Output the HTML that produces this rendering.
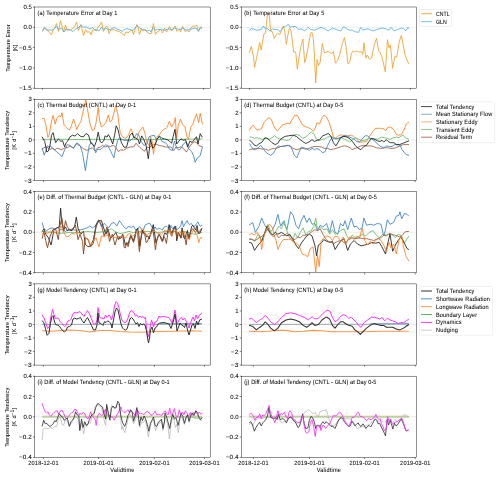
<!DOCTYPE html><html><head><meta charset="utf-8"><style>html,body{margin:0;padding:0;background:#fff;width:500px;height:477px;overflow:hidden}svg{display:block;will-change:transform}</style></head><body><svg width="500" height="477" viewBox="0 0 500 477" font-family="Liberation Sans, sans-serif"><style>text{fill:#000;stroke:#000;stroke-width:0.40px;text-rendering:geometricPrecision} text.r{text-rendering:auto;stroke-width:0.2px}</style>
<rect width="500" height="477" fill="#fff"/>
<line x1="34.5" y1="27.30" x2="210.2" y2="27.30" stroke="#d9d9d9" stroke-width="0.5"/>
<g clip-path="url(#cpa)">
<polyline points="42.5,30.5 44.5,27.0 46.0,29.5 49.0,31.5 51.5,35.0 53.0,30.0 54.5,29.0 56.5,23.5 58.5,31.5 60.5,20.5 62.0,26.0 63.5,32.0 65.5,25.0 67.0,30.5 68.5,30.0 70.0,29.5 72.0,29.0 74.5,27.0 76.5,22.0 78.5,30.5 81.0,24.5 83.5,35.5 85.5,29.5 87.0,32.0 90.0,32.0 91.0,35.0 92.5,30.0 94.5,30.0 96.5,31.0 98.0,27.0 100.0,25.0 101.5,22.0 103.5,31.5 105.0,28.0 106.5,26.0 108.0,28.0 109.0,33.5 110.5,30.0 113.5,29.5 115.5,30.5 118.0,31.0 120.0,32.0 122.0,33.5 124.5,35.5 126.0,32.0 128.0,33.0 130.0,31.0 132.0,30.0 133.5,34.5 135.5,28.0 137.0,24.5 138.5,29.0 139.5,34.5 141.5,28.5 143.0,31.0 145.0,30.0 147.0,32.0 149.0,33.5 151.5,33.5 153.5,23.5 155.5,34.5 157.0,32.0 159.5,30.5 161.0,29.5 162.5,33.0 164.5,28.0 166.5,32.0 169.5,26.5 171.5,31.0 175.0,26.0 177.0,31.5 179.5,29.0 180.5,32.0 182.5,26.5 185.0,31.5 187.0,30.5 189.0,32.0 191.5,27.0 193.5,26.0 195.0,26.5 196.5,25.0 198.5,31.0 200.5,27.0 202.0,27.5" fill="none" stroke="#eea02a" stroke-width="0.85" stroke-linejoin="round" opacity="1"/>
<polyline points="42.5,31.5 44.5,28.0 48.0,30.0 52.0,30.0 54.0,29.0 56.5,26.5 58.5,29.0 62.0,28.5 64.0,32.0 66.0,29.0 69.0,29.5 73.0,31.5 75.5,29.0 78.0,28.0 81.0,25.0 83.0,27.0 86.0,27.0 90.0,29.0 92.5,27.5 94.5,29.5 97.0,30.0 99.0,31.0 101.5,27.0 103.5,29.5 106.0,28.0 108.0,30.0 110.0,29.5 114.0,27.5 117.0,29.0 120.0,30.0 122.0,31.5 124.5,29.5 127.0,28.5 130.0,29.5 133.0,30.5 135.0,28.0 137.0,25.5 139.0,27.5 142.0,29.5 144.5,29.5 147.0,31.0 149.5,30.0 151.0,32.0 153.0,27.5 155.0,30.0 157.5,29.5 160.0,29.5 161.5,29.0 164.0,30.5 166.0,29.5 170.0,29.0 172.0,30.0 174.5,28.0 177.5,29.0 180.0,29.5 183.0,28.0 186.0,30.0 190.0,29.5 193.0,28.5 196.0,28.0 198.5,31.5 200.0,27.5 202.0,29.0" fill="none" stroke="#56b0e8" stroke-width="0.85" stroke-linejoin="round" opacity="1"/>
</g>
<clipPath id="cpa"><rect x="34.5" y="7.0" width="175.70" height="81.2"/></clipPath>
<rect x="34.5" y="7.0" width="175.70" height="81.2" fill="none" stroke="#000" stroke-width="0.44"/>
<line x1="32.9" y1="7.00" x2="34.5" y2="7.00" stroke="#000" stroke-width="0.5"/>
<g transform="translate(31.70,9.00) scale(0.1,0.1100)"><text font-size="56.0" text-anchor="end" textLength="82.7" lengthAdjust="spacingAndGlyphs">0.5</text></g>
<line x1="32.9" y1="27.30" x2="34.5" y2="27.30" stroke="#000" stroke-width="0.5"/>
<g transform="translate(31.70,29.30) scale(0.1,0.1100)"><text font-size="56.0" text-anchor="end" textLength="82.7" lengthAdjust="spacingAndGlyphs">0.0</text></g>
<line x1="32.9" y1="47.60" x2="34.5" y2="47.60" stroke="#000" stroke-width="0.5"/>
<g transform="translate(31.70,49.60) scale(0.1,0.1100)"><text font-size="56.0" text-anchor="end" textLength="126.3" lengthAdjust="spacingAndGlyphs">−0.5</text></g>
<line x1="32.9" y1="67.90" x2="34.5" y2="67.90" stroke="#000" stroke-width="0.5"/>
<g transform="translate(31.70,69.90) scale(0.1,0.1100)"><text font-size="56.0" text-anchor="end" textLength="126.3" lengthAdjust="spacingAndGlyphs">−1.0</text></g>
<line x1="32.9" y1="88.20" x2="34.5" y2="88.20" stroke="#000" stroke-width="0.5"/>
<g transform="translate(31.70,90.20) scale(0.1,0.1100)"><text font-size="56.0" text-anchor="end" textLength="126.3" lengthAdjust="spacingAndGlyphs">−1.5</text></g>
<line x1="42.40" y1="88.2" x2="42.40" y2="89.8" stroke="#000" stroke-width="0.5"/>
<line x1="98.00" y1="88.2" x2="98.00" y2="89.8" stroke="#000" stroke-width="0.5"/>
<line x1="153.40" y1="88.2" x2="153.40" y2="89.8" stroke="#000" stroke-width="0.5"/>
<line x1="203.40" y1="88.2" x2="203.40" y2="89.8" stroke="#000" stroke-width="0.5"/>
<g transform="translate(37.50,14.60) scale(0.1,0.1100)"><text font-size="56.0" textLength="799.3" lengthAdjust="spacing">(a) Temperature Error at Day 1</text></g>
<line x1="241.3" y1="27.30" x2="416.4" y2="27.30" stroke="#d9d9d9" stroke-width="0.5"/>
<g clip-path="url(#cpb)">
<polyline points="249.2,52.6 251.3,46.3 253.4,56.3 254.6,67.4 256.7,57.3 259.7,42.6 261.2,50.0 263.9,33.7 265.4,33.2 266.5,24.3 267.5,13.8 269.1,13.8 270.7,31.1 272.3,31.6 274.3,38.4 276.4,34.8 278.0,33.2 279.6,34.8 281.2,31.1 283.3,25.9 284.8,31.1 286.4,44.2 288.0,34.3 289.5,28.0 291.1,31.0 293.7,52.2 295.1,51.5 295.9,53.7 297.3,69.1 298.8,59.5 300.3,49.3 302.9,39.0 304.7,62.5 306.1,58.1 308.3,46.3 310.5,33.1 312.0,32.4 313.2,37.5 314.2,50.7 315.7,83.0 317.1,59.5 318.6,65.4 320.1,62.5 322.3,43.4 324.5,52.9 328.1,51.5 331.8,53.7 333.3,51.5 335.5,63.2 337.7,60.3 339.9,53.7 342.3,43.4 344.5,37.5 346.0,46.3 347.9,63.9 349.7,62.5 351.4,53.7 353.3,50.7 354.8,52.2 357.0,50.7 359.2,52.2 361.4,51.5 362.9,54.4 364.0,42.7 365.8,58.1 367.3,55.1 369.5,59.5 371.7,58.1 373.9,46.3 376.5,38.3 378.7,50.7 380.1,52.2 382.3,58.1 385.3,72.0 387.5,39.7 388.9,47.8 390.4,44.9 392.6,68.3 394.8,56.6 396.7,57.3 399.2,41.9 401.4,35.3 405.1,55.1 408.7,63.9" fill="none" stroke="#eea02a" stroke-width="0.85" stroke-linejoin="round" opacity="1"/>
<polyline points="249.2,31.1 251.3,28.5 253.4,29.0 256.0,30.0 258.6,30.0 261.2,29.5 263.3,25.9 265.4,29.0 267.5,28.5 270.2,31.1 272.3,29.0 275.4,29.5 277.5,29.5 280.1,31.6 282.7,28.0 285.4,26.4 288.5,24.3 290.1,27.4 292.2,26.5 295.9,26.5 298.1,29.5 301.0,28.7 304.7,30.9 308.3,27.3 310.5,29.5 314.9,30.2 320.8,27.3 324.5,28.7 328.1,30.9 332.5,28.0 336.2,29.5 340.9,30.9 343.8,26.5 346.7,28.7 349.7,30.2 352.6,30.2 354.8,31.7 358.5,32.4 360.7,27.3 362.9,30.2 365.1,29.5 368.0,28.7 370.9,30.2 373.1,30.9 376.8,29.5 381.9,28.0 385.3,28.7 388.9,30.2 391.1,27.3 394.1,30.9 397.7,29.5 401.4,28.0 403.6,28.7 405.8,30.9 408.0,27.3 408.7,28.7" fill="none" stroke="#56b0e8" stroke-width="0.85" stroke-linejoin="round" opacity="1"/>
</g>
<clipPath id="cpb"><rect x="241.3" y="7.0" width="175.10" height="81.2"/></clipPath>
<rect x="241.3" y="7.0" width="175.10" height="81.2" fill="none" stroke="#000" stroke-width="0.44"/>
<line x1="239.70000000000002" y1="7.00" x2="241.3" y2="7.00" stroke="#000" stroke-width="0.5"/>
<g transform="translate(238.50,9.00) scale(0.1,0.1100)"><text font-size="56.0" text-anchor="end" textLength="82.7" lengthAdjust="spacingAndGlyphs">0.5</text></g>
<line x1="239.70000000000002" y1="27.30" x2="241.3" y2="27.30" stroke="#000" stroke-width="0.5"/>
<g transform="translate(238.50,29.30) scale(0.1,0.1100)"><text font-size="56.0" text-anchor="end" textLength="82.7" lengthAdjust="spacingAndGlyphs">0.0</text></g>
<line x1="239.70000000000002" y1="47.60" x2="241.3" y2="47.60" stroke="#000" stroke-width="0.5"/>
<g transform="translate(238.50,49.60) scale(0.1,0.1100)"><text font-size="56.0" text-anchor="end" textLength="126.3" lengthAdjust="spacingAndGlyphs">−0.5</text></g>
<line x1="239.70000000000002" y1="67.90" x2="241.3" y2="67.90" stroke="#000" stroke-width="0.5"/>
<g transform="translate(238.50,69.90) scale(0.1,0.1100)"><text font-size="56.0" text-anchor="end" textLength="126.3" lengthAdjust="spacingAndGlyphs">−1.0</text></g>
<line x1="239.70000000000002" y1="88.20" x2="241.3" y2="88.20" stroke="#000" stroke-width="0.5"/>
<g transform="translate(238.50,90.20) scale(0.1,0.1100)"><text font-size="56.0" text-anchor="end" textLength="126.3" lengthAdjust="spacingAndGlyphs">−1.5</text></g>
<line x1="249.50" y1="88.2" x2="249.50" y2="89.8" stroke="#000" stroke-width="0.5"/>
<line x1="304.60" y1="88.2" x2="304.60" y2="89.8" stroke="#000" stroke-width="0.5"/>
<line x1="360.40" y1="88.2" x2="360.40" y2="89.8" stroke="#000" stroke-width="0.5"/>
<line x1="410.40" y1="88.2" x2="410.40" y2="89.8" stroke="#000" stroke-width="0.5"/>
<g transform="translate(244.30,14.60) scale(0.1,0.1100)"><text font-size="56.0" textLength="800.4" lengthAdjust="spacing">(b) Temperature Error at Day 5</text></g>
<g transform="translate(10.40,48.10) rotate(-90) scale(0.1,0.1100)"><text class="r" font-size="56.0" text-anchor="middle" textLength="472.7" lengthAdjust="spacing">Temperature Error</text></g>
<g transform="translate(16.60,48.10) rotate(-90) scale(0.1,0.1100)"><text class="r" font-size="56.0" text-anchor="middle">[K]</text></g>
<line x1="34.5" y1="139.90" x2="210.2" y2="139.90" stroke="#d9d9d9" stroke-width="0.5"/>
<g clip-path="url(#cpc)">
<polyline points="42.1,118.5 44.2,118.5 45.8,124.8 47.9,137.4 49.4,134.2 51.0,123.7 53.1,115.3 55.2,124.2 56.8,118.5 58.9,115.9 61.0,116.4 62.0,112.7 64.1,125.3 66.2,127.4 69.4,130.0 71.4,125.8 73.5,119.0 75.1,123.7 76.7,129.5 78.8,124.8 80.9,121.6 83.4,110.1 85.9,100.0 87.6,110.0 90.0,123.9 92.5,130.8 94.4,129.6 96.3,121.4 98.2,107.5 99.5,120.1 101.4,127.0 103.9,125.2 105.8,122.6 108.3,115.1 110.2,122.0 112.0,120.1 114.6,110.1 115.8,105.0 117.7,113.8 120.2,132.7 122.7,137.1 125.9,138.4 128.4,135.2 130.9,128.9 132.2,131.5 134.4,138.1 136.6,139.6 138.8,132.3 141.0,129.3 142.9,127.1 144.7,132.3 146.9,142.5 149.1,145.5 150.5,136.7 152.0,141.1 153.5,154.3 154.9,144.0 157.1,136.7 159.3,135.2 161.5,131.5 163.7,129.3 165.9,128.6 167.2,127.1 169.4,121.3 171.6,127.1 173.8,123.5 175.3,117.6 176.7,138.1 178.2,125.7 180.4,119.1 182.6,124.9 184.8,126.4 187.0,136.7 188.5,139.6 190.7,127.1 192.9,124.2 194.3,119.8 196.5,113.9 198.7,122.7 200.2,113.2 202.4,124.2" fill="none" stroke="#ff8020" stroke-width="0.85" stroke-linejoin="round" opacity="1"/>
<polyline points="42.1,139.4 60.0,139.2 80.0,139.6 95.0,139.3 110.0,139.6 130.0,139.5 150.0,139.6 170.0,139.4 185.0,139.2 202.4,139.0" fill="none" stroke="#66bb66" stroke-width="0.85" stroke-linejoin="round" opacity="1"/>
<polyline points="42.1,149.9 43.7,147.8 45.8,146.8 47.9,147.8 50.0,149.4 52.1,148.4 54.7,149.9 56.8,148.4 58.9,148.4 61.0,149.9 63.1,148.9 65.7,147.3 67.8,147.8 70.0,146.1 73.4,147.8 76.7,143.6 80.1,146.1 83.4,148.7 86.8,150.3 90.1,148.7 92.5,147.8 95.1,150.9 97.6,147.8 100.1,147.2 102.6,145.3 105.1,147.2 107.6,145.9 110.2,146.5 113.3,145.3 115.8,147.2 118.3,151.6 120.8,149.7 123.4,150.3 126.5,148.4 130.0,146.9 133.7,146.9 135.9,143.3 138.8,146.2 141.7,149.1 144.7,151.3 146.9,146.9 149.1,147.7 152.0,145.5 155.7,144.0 159.3,145.5 163.0,146.2 165.9,147.2 170.9,146.9 173.8,150.6 176.0,146.9 178.2,147.7 181.1,146.9 184.1,149.1 186.3,152.1 188.5,148.4 191.4,144.0 194.3,141.8 196.5,142.5 198.7,145.5 202.4,146.9" fill="none" stroke="#a05c3c" stroke-width="0.85" stroke-linejoin="round" opacity="1"/>
<polyline points="42.1,147.8 44.2,155.2 45.8,151.0 47.3,145.7 48.9,146.8 50.5,146.3 52.6,147.8 54.7,149.9 56.8,152.0 59.4,154.1 62.0,156.7 64.6,149.9 67.3,144.7 70.0,145.3 73.4,148.7 76.7,142.8 80.1,145.3 82.6,153.7 85.4,170.5 87.6,155.4 89.3,145.3 91.3,142.1 93.2,144.7 95.7,152.8 97.6,149.1 100.1,149.7 102.6,147.8 105.8,144.7 108.3,146.5 110.8,151.6 113.9,157.9 115.8,147.8 117.7,140.3 119.6,137.7 121.5,139.0 124.0,140.3 126.5,140.3 130.0,141.1 132.9,138.1 135.1,136.7 136.6,133.7 138.8,135.2 141.0,141.1 143.9,145.5 146.9,144.0 149.1,136.7 151.3,135.9 154.2,135.2 156.4,139.6 159.3,136.7 162.3,141.8 165.2,142.5 167.2,144.7 169.4,149.1 172.3,150.6 174.5,141.1 176.7,148.4 178.9,149.9 181.1,148.4 183.3,144.0 186.3,141.8 188.5,148.4 191.4,151.3 193.6,155.7 195.1,162.3 197.3,157.9 200.2,155.7 202.4,146.9" fill="none" stroke="#3a80c0" stroke-width="0.85" stroke-linejoin="round" opacity="1"/>
<polyline points="42.1,136.8 44.7,141.5 46.8,152.0 48.4,151.0 50.0,145.7 51.5,135.3 53.1,132.6 54.2,137.4 55.7,142.6 58.3,138.9 61.0,141.5 62.5,140.5 64.6,146.8 66.2,142.6 67.8,141.0 70.0,136.9 72.5,135.2 75.0,136.1 77.6,133.6 80.1,136.1 83.4,136.9 85.9,133.6 88.5,135.0 90.7,142.8 92.5,144.7 94.4,146.5 96.3,141.5 98.2,132.1 100.1,141.5 102.0,142.8 103.9,140.3 105.1,135.8 107.0,137.1 108.3,134.6 110.2,137.7 112.7,144.0 114.6,135.2 116.2,125.8 118.0,129.6 119.6,136.5 121.5,142.8 124.0,147.2 126.5,147.2 128.4,140.3 130.0,135.2 132.2,133.0 133.7,137.4 135.9,138.1 138.1,139.6 139.5,144.0 141.7,135.9 143.9,139.6 146.1,145.5 148.3,158.7 150.5,139.6 152.7,148.4 154.9,145.5 157.1,139.6 159.3,135.9 161.5,138.1 164.5,138.9 167.2,139.6 169.4,141.1 171.6,143.3 173.1,136.7 175.0,129.3 176.7,144.0 178.9,141.1 181.1,138.9 183.3,140.3 185.5,139.6 187.7,146.9 189.9,141.1 192.1,142.5 194.3,139.6 196.5,136.7 198.0,144.0 200.2,133.7 202.4,137.4" fill="none" stroke="#1a1a1a" stroke-width="0.85" stroke-linejoin="round" opacity="1"/>
</g>
<clipPath id="cpc"><rect x="34.5" y="99.3" width="175.70" height="81.2"/></clipPath>
<rect x="34.5" y="99.3" width="175.70" height="81.2" fill="none" stroke="#000" stroke-width="0.44"/>
<line x1="32.9" y1="99.30" x2="34.5" y2="99.30" stroke="#000" stroke-width="0.5"/>
<g transform="translate(31.70,101.30) scale(0.1,0.1100)"><text font-size="56.0" text-anchor="end" textLength="33.1" lengthAdjust="spacingAndGlyphs">3</text></g>
<line x1="32.9" y1="112.83" x2="34.5" y2="112.83" stroke="#000" stroke-width="0.5"/>
<g transform="translate(31.70,114.83) scale(0.1,0.1100)"><text font-size="56.0" text-anchor="end" textLength="33.1" lengthAdjust="spacingAndGlyphs">2</text></g>
<line x1="32.9" y1="126.37" x2="34.5" y2="126.37" stroke="#000" stroke-width="0.5"/>
<g transform="translate(31.70,128.37) scale(0.1,0.1100)"><text font-size="56.0" text-anchor="end" textLength="33.1" lengthAdjust="spacingAndGlyphs">1</text></g>
<line x1="32.9" y1="139.90" x2="34.5" y2="139.90" stroke="#000" stroke-width="0.5"/>
<g transform="translate(31.70,141.90) scale(0.1,0.1100)"><text font-size="56.0" text-anchor="end" textLength="33.1" lengthAdjust="spacingAndGlyphs">0</text></g>
<line x1="32.9" y1="153.43" x2="34.5" y2="153.43" stroke="#000" stroke-width="0.5"/>
<g transform="translate(31.70,155.43) scale(0.1,0.1100)"><text font-size="56.0" text-anchor="end" textLength="76.7" lengthAdjust="spacingAndGlyphs">−1</text></g>
<line x1="32.9" y1="166.97" x2="34.5" y2="166.97" stroke="#000" stroke-width="0.5"/>
<g transform="translate(31.70,168.97) scale(0.1,0.1100)"><text font-size="56.0" text-anchor="end" textLength="76.7" lengthAdjust="spacingAndGlyphs">−2</text></g>
<line x1="32.9" y1="180.50" x2="34.5" y2="180.50" stroke="#000" stroke-width="0.5"/>
<g transform="translate(31.70,182.50) scale(0.1,0.1100)"><text font-size="56.0" text-anchor="end" textLength="76.7" lengthAdjust="spacingAndGlyphs">−3</text></g>
<line x1="43.40" y1="180.5" x2="43.40" y2="182.1" stroke="#000" stroke-width="0.5"/>
<line x1="98.60" y1="180.5" x2="98.60" y2="182.1" stroke="#000" stroke-width="0.5"/>
<line x1="154.40" y1="180.5" x2="154.40" y2="182.1" stroke="#000" stroke-width="0.5"/>
<line x1="204.40" y1="180.5" x2="204.40" y2="182.1" stroke="#000" stroke-width="0.5"/>
<g transform="translate(37.50,106.90) scale(0.1,0.1100)"><text font-size="56.0" textLength="985.9" lengthAdjust="spacing">(c) Thermal Budget (CNTL) at Day 0-1</text></g>
<line x1="241.3" y1="139.90" x2="416.4" y2="139.90" stroke="#d9d9d9" stroke-width="0.5"/>
<g clip-path="url(#cpd)">
<polyline points="249.4,130.2 251.3,127.0 253.2,125.1 255.1,127.6 257.0,130.2 258.8,129.5 261.4,128.9 263.9,122.6 266.4,119.5 268.9,117.6 271.4,119.5 273.3,125.1 275.8,129.5 277.7,130.8 279.6,128.3 282.1,125.1 285.3,123.9 287.8,123.2 289.7,123.9 292.5,118.8 295.0,115.1 297.5,115.7 300.1,120.7 302.6,125.1 305.1,126.4 308.2,127.6 310.8,128.9 313.3,131.4 315.2,128.3 317.0,122.6 319.6,123.9 322.1,117.6 324.0,115.1 326.5,117.0 329.0,122.0 331.5,130.2 333.4,137.1 335.3,138.3 337.5,136.4 341.3,134.6 344.4,136.4 347.6,135.8 351.4,135.2 353.9,136.4 356.4,139.0 359.5,142.1 362.7,142.1 366.4,141.5 369.6,136.4 372.7,131.4 375.9,128.3 380.7,128.3 383.8,128.9 385.7,130.8 387.6,127.6 390.1,127.0 392.6,128.3 394.5,130.8 396.4,134.6 398.3,135.2 401.4,134.6 403.9,130.2 406.4,123.9 409.0,122.0" fill="none" stroke="#ff8020" stroke-width="0.85" stroke-linejoin="round" opacity="1"/>
<polyline points="249.4,137.1 251.9,137.1 254.4,138.3 257.0,137.7 259.5,138.3 262.0,139.6 264.5,138.3 267.0,138.3 269.5,139.0 272.0,137.7 274.6,135.8 277.1,137.7 279.6,139.0 282.7,139.6 285.3,140.2 288.4,140.2 290.5,139.0 292.5,135.8 295.0,134.6 297.5,134.6 300.1,135.8 302.6,138.3 305.7,137.1 308.9,133.9 311.4,132.0 313.9,133.9 316.4,139.0 318.9,140.8 321.4,139.6 324.6,139.0 327.7,137.1 330.9,136.4 333.4,137.7 338.1,139.0 341.3,137.7 344.4,139.0 347.6,140.8 349.5,142.1 352.0,140.2 355.1,137.7 358.3,139.0 361.4,140.8 364.6,140.2 367.7,139.0 370.8,138.3 374.0,139.0 378.1,139.0 381.3,137.1 384.4,137.7 387.6,138.3 390.1,139.6 393.2,137.7 396.4,137.1 398.9,137.7 400.8,136.4 403.3,135.2 405.8,138.3 409.0,139.0" fill="none" stroke="#66bb66" stroke-width="0.85" stroke-linejoin="round" opacity="1"/>
<polyline points="249.4,149.7 252.5,149.0 255.7,148.4 258.8,148.4 262.0,149.0 265.1,149.0 268.3,150.3 271.4,149.0 274.6,148.4 277.7,147.8 280.8,146.5 284.0,145.9 287.8,145.3 290.3,146.5 293.1,148.4 296.3,149.7 299.4,149.0 302.6,148.4 305.7,149.0 308.9,148.4 312.0,147.1 315.2,146.5 318.3,146.5 321.4,147.1 324.6,148.4 327.7,148.4 330.9,149.7 333.4,149.0 335.9,148.4 338.1,147.8 341.3,146.5 344.4,145.9 347.6,146.5 350.1,147.8 352.0,149.7 355.1,148.4 358.3,147.1 360.8,145.9 363.9,145.3 367.1,145.9 370.2,145.9 373.4,146.5 376.5,147.8 381.3,148.4 384.4,147.8 387.6,147.8 390.7,148.4 393.9,148.4 397.0,147.1 400.2,145.9 403.3,144.6 409.0,144.6" fill="none" stroke="#a05c3c" stroke-width="0.85" stroke-linejoin="round" opacity="1"/>
<polyline points="249.4,143.4 251.3,146.5 253.8,149.7 255.7,149.7 258.2,147.8 260.7,145.3 263.2,148.4 265.8,152.2 268.3,154.1 270.8,155.3 273.3,153.4 275.8,149.0 278.3,145.9 280.8,146.5 283.4,146.5 285.9,145.9 288.5,145.3 290.5,146.0 291.9,149.0 294.4,155.3 296.9,157.8 298.8,152.8 301.3,147.1 303.8,147.8 306.4,149.0 309.5,150.3 312.0,148.4 314.5,149.7 317.0,148.4 320.2,150.3 322.7,152.8 325.2,151.5 327.7,145.3 330.3,140.2 332.1,137.7 335.0,139.0 338.1,138.3 341.3,137.1 345.1,135.2 347.6,136.4 351.4,137.7 353.9,139.0 356.4,141.5 359.5,142.1 362.0,139.0 365.2,135.8 367.7,135.8 370.2,138.3 372.7,139.6 375.9,142.1 377.5,144.0 380.7,146.5 383.8,147.8 386.9,145.9 389.5,146.5 392.0,146.5 394.5,144.6 397.6,144.6 400.2,145.3 402.0,149.7 404.6,152.8 406.4,154.7 409.0,155.3" fill="none" stroke="#3a80c0" stroke-width="0.85" stroke-linejoin="round" opacity="1"/>
<polyline points="249.4,140.2 251.3,141.5 253.8,144.6 256.3,145.9 258.8,144.0 262.0,142.1 265.1,137.7 267.0,138.3 269.5,140.2 272.0,142.7 275.2,144.6 277.7,143.4 280.2,139.6 282.7,137.7 285.3,136.4 288.4,135.8 293.1,135.2 296.3,136.4 299.4,139.0 302.6,141.5 305.7,143.4 308.9,142.1 312.0,139.6 314.5,141.5 317.0,140.2 319.6,139.6 322.7,135.8 325.8,134.6 328.4,133.3 330.9,136.4 333.4,142.7 335.9,145.9 337.8,142.7 340.7,137.7 343.8,136.4 347.0,137.1 350.1,139.0 352.6,141.5 355.1,145.3 357.6,147.8 360.8,149.7 363.3,147.1 366.4,145.3 369.0,141.5 371.5,138.3 374.0,139.0 377.5,140.8 380.0,141.5 381.9,140.2 383.8,142.1 386.3,139.6 388.2,141.5 390.7,142.7 393.9,142.7 396.4,144.6 399.5,144.6 402.7,143.4 405.8,142.1 409.0,140.8" fill="none" stroke="#1a1a1a" stroke-width="0.85" stroke-linejoin="round" opacity="1"/>
</g>
<clipPath id="cpd"><rect x="241.3" y="99.3" width="175.10" height="81.2"/></clipPath>
<rect x="241.3" y="99.3" width="175.10" height="81.2" fill="none" stroke="#000" stroke-width="0.44"/>
<line x1="239.70000000000002" y1="99.30" x2="241.3" y2="99.30" stroke="#000" stroke-width="0.5"/>
<g transform="translate(238.50,101.30) scale(0.1,0.1100)"><text font-size="56.0" text-anchor="end" textLength="33.1" lengthAdjust="spacingAndGlyphs">3</text></g>
<line x1="239.70000000000002" y1="112.83" x2="241.3" y2="112.83" stroke="#000" stroke-width="0.5"/>
<g transform="translate(238.50,114.83) scale(0.1,0.1100)"><text font-size="56.0" text-anchor="end" textLength="33.1" lengthAdjust="spacingAndGlyphs">2</text></g>
<line x1="239.70000000000002" y1="126.37" x2="241.3" y2="126.37" stroke="#000" stroke-width="0.5"/>
<g transform="translate(238.50,128.37) scale(0.1,0.1100)"><text font-size="56.0" text-anchor="end" textLength="33.1" lengthAdjust="spacingAndGlyphs">1</text></g>
<line x1="239.70000000000002" y1="139.90" x2="241.3" y2="139.90" stroke="#000" stroke-width="0.5"/>
<g transform="translate(238.50,141.90) scale(0.1,0.1100)"><text font-size="56.0" text-anchor="end" textLength="33.1" lengthAdjust="spacingAndGlyphs">0</text></g>
<line x1="239.70000000000002" y1="153.43" x2="241.3" y2="153.43" stroke="#000" stroke-width="0.5"/>
<g transform="translate(238.50,155.43) scale(0.1,0.1100)"><text font-size="56.0" text-anchor="end" textLength="76.7" lengthAdjust="spacingAndGlyphs">−1</text></g>
<line x1="239.70000000000002" y1="166.97" x2="241.3" y2="166.97" stroke="#000" stroke-width="0.5"/>
<g transform="translate(238.50,168.97) scale(0.1,0.1100)"><text font-size="56.0" text-anchor="end" textLength="76.7" lengthAdjust="spacingAndGlyphs">−2</text></g>
<line x1="239.70000000000002" y1="180.50" x2="241.3" y2="180.50" stroke="#000" stroke-width="0.5"/>
<g transform="translate(238.50,182.50) scale(0.1,0.1100)"><text font-size="56.0" text-anchor="end" textLength="76.7" lengthAdjust="spacingAndGlyphs">−3</text></g>
<line x1="253.40" y1="180.5" x2="253.40" y2="182.1" stroke="#000" stroke-width="0.5"/>
<line x1="309.40" y1="180.5" x2="309.40" y2="182.1" stroke="#000" stroke-width="0.5"/>
<line x1="364.60" y1="180.5" x2="364.60" y2="182.1" stroke="#000" stroke-width="0.5"/>
<line x1="415.20" y1="180.5" x2="415.20" y2="182.1" stroke="#000" stroke-width="0.5"/>
<g transform="translate(244.30,106.90) scale(0.1,0.1100)"><text font-size="56.0" textLength="990.3" lengthAdjust="spacing">(d) Thermal Budget (CNTL) at Day 0-5</text></g>
<g transform="translate(9.40,140.40) rotate(-90) scale(0.1,0.1100)"><text class="r" font-size="56.0" text-anchor="middle" textLength="591.1" lengthAdjust="spacing">Temperature Tendency</text></g>
<g transform="translate(15.80,140.40) rotate(-90) scale(0.1,0.1100)"><text class="r" font-size="56.0" text-anchor="middle" textLength="186.0" lengthAdjust="spacing">[K d<tspan font-size="42" dy="-20">−1</tspan><tspan dy="20">]</tspan></text></g>
<line x1="34.5" y1="232.20" x2="210.2" y2="232.20" stroke="#d9d9d9" stroke-width="0.5"/>
<g clip-path="url(#cpe)">
<polyline points="42.1,231.5 52.0,232.4 61.0,233.3 70.0,232.4 79.0,232.4 88.0,231.5 97.0,232.4 106.0,231.5 111.4,228.8 115.0,231.5 120.0,233.6 124.5,232.7 129.0,231.4 133.5,232.7 138.0,231.8 142.5,231.8 147.0,231.4 151.5,231.8 156.0,232.3 160.5,232.3 165.0,231.4 169.5,231.8 174.0,231.4 178.5,232.3 183.0,231.4 187.5,232.3 192.0,233.6 195.6,234.5 199.2,233.2 201.9,232.3" fill="none" stroke="#66bb66" stroke-width="0.85" stroke-linejoin="round" opacity="1"/>
<polyline points="42.1,222.5 43.9,228.8 46.6,230.6 49.3,228.8 52.0,227.9 54.7,228.8 57.4,227.9 60.1,229.7 62.8,229.7 65.5,231.5 68.2,229.7 70.9,230.6 73.6,229.7 76.3,230.6 79.0,229.7 81.7,229.7 84.4,228.8 87.1,227.9 89.8,226.1 92.5,227.9 95.2,226.1 97.9,220.7 99.7,222.5 101.5,227.0 104.2,223.4 106.0,225.2 108.7,227.9 111.4,223.4 114.1,222.5 116.8,226.1 119.5,220.7 120.0,221.5 121.4,223.3 122.7,225.5 124.5,227.3 126.3,229.1 128.1,226.4 129.9,226.9 131.7,227.3 133.5,226.0 134.9,228.7 136.2,230.5 137.6,229.6 139.4,226.4 140.7,227.8 142.1,230.9 143.4,230.0 144.8,225.5 146.1,224.6 147.9,223.7 149.7,223.3 151.1,225.5 152.4,227.8 153.8,228.7 155.1,226.9 156.9,229.6 158.7,228.2 160.5,228.7 162.3,230.0 164.1,227.3 165.0,226.2 166.8,226.4 168.2,227.8 169.5,229.1 170.9,225.5 172.2,228.7 173.6,227.3 174.9,226.4 176.3,230.0 177.6,229.1 179.4,227.8 180.8,225.5 182.1,220.6 183.5,226.9 184.8,224.2 187.1,220.6 188.4,223.7 189.8,224.6 191.1,223.3 192.5,225.5 193.8,226.9 195.2,225.5 196.5,223.7 197.9,221.9 199.2,225.1 200.6,226.4 201.9,224.6" fill="none" stroke="#3a80c0" stroke-width="0.85" stroke-linejoin="round" opacity="1"/>
<polyline points="42.1,231.5 43.9,228.8 45.7,234.2 48.4,237.8 51.1,245.0 53.8,230.6 56.5,227.9 59.2,227.0 60.6,208.1 61.9,223.4 63.7,229.7 65.5,227.0 67.3,230.6 69.1,229.7 71.8,230.6 74.5,227.0 76.3,217.1 78.1,228.8 80.8,234.2 83.5,231.5 85.3,244.1 88.0,246.8 90.7,245.9 93.4,239.6 96.1,225.2 98.8,220.7 101.5,220.7 103.3,227.0 106.0,234.2 107.8,228.8 110.5,237.8 113.2,236.0 115.9,232.4 118.6,239.6 120.0,236.3 121.4,237.7 122.7,234.5 124.1,239.0 125.4,245.3 126.8,242.6 128.1,244.0 129.5,239.0 130.8,235.4 132.2,238.1 133.5,240.8 134.9,235.4 136.2,230.0 137.6,228.2 138.9,235.4 139.8,246.2 141.2,238.1 142.5,230.0 143.9,233.2 145.2,233.2 146.6,236.8 147.9,235.9 149.3,239.0 150.6,233.6 152.0,229.1 153.3,224.6 154.7,234.0 156.0,243.1 157.4,238.1 158.7,234.5 160.1,235.9 161.4,238.1 162.8,240.8 164.1,234.5 165.0,232.7 166.4,234.5 167.7,231.8 169.1,224.6 170.4,230.0 171.8,233.6 173.1,230.0 174.5,226.9 175.8,226.4 176.7,240.8 178.1,232.7 179.4,234.5 180.8,238.1 182.1,227.8 183.5,237.2 184.8,239.0 186.2,233.6 187.5,230.5 188.9,239.0 190.2,233.6 191.6,226.4 192.9,225.1 194.3,227.8 195.6,230.0 197.0,225.5 198.3,232.7 199.7,233.2 201.0,230.9 201.9,228.2" fill="none" stroke="#1a1a1a" stroke-width="0.85" stroke-linejoin="round" opacity="1"/>
<polyline points="42.1,238.7 43.9,231.5 45.7,240.5 47.5,247.7 50.2,236.0 52.9,229.7 55.6,228.8 58.3,239.6 60.1,225.2 61.9,218.0 63.7,231.5 65.5,220.7 67.3,227.0 70.0,229.7 72.7,228.8 75.4,225.2 78.1,239.6 79.9,234.2 82.6,241.4 83.5,254.0 85.3,237.8 88.0,239.6 90.7,246.8 93.4,243.2 96.1,227.0 98.8,219.8 101.5,225.2 104.2,236.0 106.9,227.0 109.6,241.4 112.3,234.2 115.0,245.0 117.7,236.0 120.0,239.0 121.4,237.2 122.7,234.5 124.1,247.1 125.4,248.0 126.8,242.6 128.1,246.7 129.5,240.8 130.8,236.8 132.2,239.0 133.5,242.6 134.9,238.1 136.2,231.8 137.6,232.7 138.5,243.5 139.4,251.6 140.7,239.0 142.1,231.4 143.4,233.6 144.8,234.5 146.1,242.6 147.5,241.7 148.8,237.2 150.2,235.4 151.5,232.7 152.9,229.1 154.2,239.0 155.4,249.8 156.9,239.9 158.3,236.3 159.6,234.5 161.0,239.0 162.3,241.7 163.7,236.3 165.0,238.1 166.4,243.5 167.7,234.5 169.1,228.2 170.4,233.6 171.8,236.3 173.1,230.0 174.5,228.2 175.8,231.8 177.2,239.0 178.5,232.7 179.9,235.0 181.2,238.1 182.6,230.0 183.9,234.5 185.3,239.9 186.2,244.9 187.5,233.6 188.9,237.2 190.2,232.7 191.6,230.0 192.9,228.7 194.3,230.9 195.6,232.7 197.0,229.1 198.3,233.6 199.7,231.4 201.0,229.1 201.9,228.2" fill="none" stroke="#8a4a25" stroke-width="0.95" stroke-linejoin="round" opacity="1"/>
<polyline points="42.1,234.2 44.8,232.4 47.5,233.3 50.2,231.5 52.9,232.4 55.6,232.4 58.3,230.6 61.0,226.1 63.7,232.4 66.4,236.9 69.1,236.0 71.8,233.3 74.5,234.2 77.2,231.5 79.9,234.2 82.6,231.5 85.3,237.8 88.0,238.7 90.7,245.0 93.4,241.4 96.1,237.8 98.8,246.8 101.5,236.0 104.2,236.9 106.9,235.1 109.6,236.9 112.3,236.0 115.0,237.8 117.7,236.9 120.0,237.2 121.8,236.3 123.6,236.8 125.4,238.1 127.2,235.0 129.0,233.6 130.8,234.1 132.6,236.3 134.4,235.0 135.8,233.2 137.1,231.4 138.5,234.1 139.8,233.2 141.6,230.0 143.0,228.7 144.3,231.4 145.7,234.5 147.0,235.4 148.8,233.2 150.6,234.5 152.4,231.8 154.2,231.4 156.0,232.3 157.8,233.6 159.6,233.2 161.4,234.5 163.2,232.3 165.0,230.0 166.4,230.9 167.7,230.0 169.1,230.9 170.4,230.5 171.8,235.4 173.1,232.7 174.5,231.8 175.8,230.0 177.2,232.7 178.5,234.5 179.9,233.2 181.2,231.8 182.6,233.6 183.9,231.4 185.3,234.5 186.6,236.3 188.0,237.2 189.3,239.9 190.7,235.4 192.0,232.7 193.4,230.0 194.7,230.9 196.1,234.5 197.4,235.9 198.8,242.6 200.1,238.1 201.0,237.2 201.9,239.0" fill="none" stroke="#ff8020" stroke-width="0.85" stroke-linejoin="round" opacity="1"/>
</g>
<clipPath id="cpe"><rect x="34.5" y="191.6" width="175.70" height="81.2"/></clipPath>
<rect x="34.5" y="191.6" width="175.70" height="81.2" fill="none" stroke="#000" stroke-width="0.44"/>
<line x1="32.9" y1="191.60" x2="34.5" y2="191.60" stroke="#000" stroke-width="0.5"/>
<g transform="translate(31.70,193.60) scale(0.1,0.1100)"><text font-size="56.0" text-anchor="end" textLength="82.7" lengthAdjust="spacingAndGlyphs">0.4</text></g>
<line x1="32.9" y1="211.90" x2="34.5" y2="211.90" stroke="#000" stroke-width="0.5"/>
<g transform="translate(31.70,213.90) scale(0.1,0.1100)"><text font-size="56.0" text-anchor="end" textLength="82.7" lengthAdjust="spacingAndGlyphs">0.2</text></g>
<line x1="32.9" y1="232.20" x2="34.5" y2="232.20" stroke="#000" stroke-width="0.5"/>
<g transform="translate(31.70,234.20) scale(0.1,0.1100)"><text font-size="56.0" text-anchor="end" textLength="82.7" lengthAdjust="spacingAndGlyphs">0.0</text></g>
<line x1="32.9" y1="252.50" x2="34.5" y2="252.50" stroke="#000" stroke-width="0.5"/>
<g transform="translate(31.70,254.50) scale(0.1,0.1100)"><text font-size="56.0" text-anchor="end" textLength="126.3" lengthAdjust="spacingAndGlyphs">−0.2</text></g>
<line x1="32.9" y1="272.80" x2="34.5" y2="272.80" stroke="#000" stroke-width="0.5"/>
<g transform="translate(31.70,274.80) scale(0.1,0.1100)"><text font-size="56.0" text-anchor="end" textLength="126.3" lengthAdjust="spacingAndGlyphs">−0.4</text></g>
<line x1="43.40" y1="272.8" x2="43.40" y2="274.40000000000003" stroke="#000" stroke-width="0.5"/>
<line x1="98.60" y1="272.8" x2="98.60" y2="274.40000000000003" stroke="#000" stroke-width="0.5"/>
<line x1="154.40" y1="272.8" x2="154.40" y2="274.40000000000003" stroke="#000" stroke-width="0.5"/>
<line x1="204.40" y1="272.8" x2="204.40" y2="274.40000000000003" stroke="#000" stroke-width="0.5"/>
<g transform="translate(37.50,199.20) scale(0.1,0.1100)"><text font-size="56.0" textLength="1339.3" lengthAdjust="spacing">(e) Diff. of Thermal Budget (CNTL - GLN) at Day 0-1</text></g>
<line x1="241.3" y1="232.20" x2="416.4" y2="232.20" stroke="#d9d9d9" stroke-width="0.5"/>
<g clip-path="url(#cpf)">
<polyline points="249.1,225.2 252.7,222.5 255.4,232.4 259.0,226.1 261.7,218.0 264.4,224.3 267.1,228.8 269.8,232.4 272.5,229.7 275.2,224.3 277.9,214.4 280.6,226.1 283.3,221.6 286.9,229.7 290.5,211.7 293.2,215.3 295.9,225.2 298.6,228.8 301.3,220.7 304.0,215.3 306.7,222.5 309.4,218.0 312.1,224.3 314.8,223.4 317.5,230.6 320.2,225.2 322.9,227.0 326.5,223.4 329.7,232.4 332.4,220.7 335.1,232.4 337.8,234.2 340.5,223.4 343.2,226.1 345.0,220.7 347.7,229.7 351.3,218.0 354.0,227.0 356.7,226.1 359.4,229.7 362.1,227.9 363.9,218.0 366.6,225.2 370.2,224.3 373.8,225.2 377.4,223.4 381.0,224.3 383.7,236.0 385.5,229.7 387.3,219.8 390.0,224.3 393.6,222.5 396.3,216.2 399.0,215.3 399.9,211.7 401.7,218.9 404.4,213.5 407.1,214.4 408.9,216.2" fill="none" stroke="#3a80c0" stroke-width="0.85" stroke-linejoin="round" opacity="1"/>
<polyline points="249.1,239.6 251.8,238.7 254.5,241.4 258.1,234.2 261.7,240.5 265.3,230.6 268.0,224.3 270.7,232.4 273.4,235.1 276.1,230.6 278.8,226.1 281.5,228.8 284.2,220.7 286.9,230.6 289.6,237.8 292.3,241.4 295.0,233.3 297.7,237.8 300.4,232.4 303.1,227.9 305.8,235.1 308.5,231.5 311.2,230.6 313.9,226.1 315.7,218.0 317.5,229.7 320.2,227.0 323.8,229.7 327.0,228.8 329.7,234.2 332.4,229.7 335.1,234.2 337.8,233.3 340.5,230.6 344.1,228.8 346.8,236.0 349.5,239.6 352.2,235.1 355.8,237.8 359.4,236.0 363.0,234.2 365.7,236.0 369.3,232.4 372.9,230.6 375.6,234.2 379.2,237.8 382.8,234.2 386.4,235.1 389.1,234.2 392.7,235.1 395.4,237.8 398.1,234.2 400.8,235.1 404.4,243.2 407.1,238.7 408.9,236.0" fill="none" stroke="#66bb66" stroke-width="0.85" stroke-linejoin="round" opacity="1"/>
<polyline points="249.1,242.3 251.8,243.2 254.5,250.4 258.1,245.0 261.7,241.4 264.4,234.2 267.1,226.1 269.8,232.4 272.5,235.1 275.2,232.4 277.9,234.2 281.5,232.4 284.2,234.2 286.9,236.0 289.6,234.2 293.2,239.6 295.9,245.0 298.6,248.6 301.3,243.2 304.0,239.6 306.7,236.0 309.4,234.2 312.1,236.0 314.8,245.0 316.6,255.8 318.4,245.0 321.1,243.2 323.8,239.6 327.0,241.4 329.7,242.3 332.4,241.4 335.1,249.5 337.8,245.0 341.4,240.5 344.1,238.7 347.7,250.4 350.4,244.1 354.0,240.5 357.6,244.1 361.2,245.9 364.8,245.0 368.4,244.1 372.0,242.3 375.6,243.2 379.2,242.3 381.9,246.8 385.5,254.0 388.2,241.4 390.0,234.2 392.7,251.3 395.4,245.0 398.1,240.5 400.8,236.9 404.4,243.2 407.1,248.6 408.9,249.5" fill="none" stroke="#1a1a1a" stroke-width="0.85" stroke-linejoin="round" opacity="1"/>
<polyline points="249.1,235.1 251.8,233.3 254.5,235.1 257.2,232.4 259.9,236.0 261.7,249.5 264.4,234.2 267.1,227.9 269.8,224.3 272.5,227.9 274.3,236.0 276.1,240.5 277.9,249.5 280.6,243.2 283.3,239.6 286.0,239.6 288.7,239.6 291.4,238.7 294.1,243.2 296.8,243.2 299.5,246.8 302.2,254.0 304.9,254.9 307.6,256.7 310.3,248.6 313.0,246.8 314.8,263.0 315.7,272.0 317.5,254.9 319.3,266.6 321.1,241.4 323.8,237.8 327.0,236.0 329.7,236.9 332.4,240.5 335.1,236.0 337.8,236.9 340.5,241.4 343.2,236.9 345.9,244.1 348.6,237.8 351.3,236.9 354.0,239.6 356.7,236.0 359.4,238.7 362.1,227.9 364.8,240.5 367.5,245.0 370.2,241.4 372.9,244.1 375.6,240.5 378.3,238.7 381.0,240.5 383.7,245.0 386.4,251.3 389.1,242.3 390.9,247.7 393.6,244.1 396.3,254.0 399.0,239.6 401.7,236.0 403.5,246.8 406.2,256.7 408.9,261.2" fill="none" stroke="#ff8020" stroke-width="0.85" stroke-linejoin="round" opacity="1"/>
<polyline points="249.1,238.7 251.8,239.6 255.4,240.5 259.0,237.8 262.6,236.0 265.3,232.4 268.0,228.8 270.7,234.2 273.4,236.9 276.1,234.2 278.8,237.8 281.5,235.1 284.2,236.0 286.9,233.3 289.6,236.0 292.3,238.7 295.0,239.6 297.7,236.9 300.4,237.8 303.1,235.1 305.8,235.1 308.5,234.2 312.1,231.5 314.8,229.7 317.5,230.6 320.2,228.8 322.9,234.2 325.6,238.7 327.0,240.5 330.6,242.3 334.2,243.2 337.8,241.4 341.4,240.5 345.0,243.2 348.6,239.6 352.2,237.8 355.8,238.7 359.4,237.8 363.0,238.7 366.6,238.7 370.2,239.6 373.8,240.5 377.4,238.7 381.0,237.8 383.7,235.1 386.4,236.0 389.1,233.3 391.8,234.2 394.5,235.1 397.2,236.0 399.9,236.9 402.6,235.1 404.4,232.4 406.2,231.5 408.9,231.5" fill="none" stroke="#a05c3c" stroke-width="0.85" stroke-linejoin="round" opacity="1"/>
</g>
<clipPath id="cpf"><rect x="241.3" y="191.6" width="175.10" height="81.2"/></clipPath>
<rect x="241.3" y="191.6" width="175.10" height="81.2" fill="none" stroke="#000" stroke-width="0.44"/>
<line x1="239.70000000000002" y1="191.60" x2="241.3" y2="191.60" stroke="#000" stroke-width="0.5"/>
<g transform="translate(238.50,193.60) scale(0.1,0.1100)"><text font-size="56.0" text-anchor="end" textLength="82.7" lengthAdjust="spacingAndGlyphs">0.4</text></g>
<line x1="239.70000000000002" y1="211.90" x2="241.3" y2="211.90" stroke="#000" stroke-width="0.5"/>
<g transform="translate(238.50,213.90) scale(0.1,0.1100)"><text font-size="56.0" text-anchor="end" textLength="82.7" lengthAdjust="spacingAndGlyphs">0.2</text></g>
<line x1="239.70000000000002" y1="232.20" x2="241.3" y2="232.20" stroke="#000" stroke-width="0.5"/>
<g transform="translate(238.50,234.20) scale(0.1,0.1100)"><text font-size="56.0" text-anchor="end" textLength="82.7" lengthAdjust="spacingAndGlyphs">0.0</text></g>
<line x1="239.70000000000002" y1="252.50" x2="241.3" y2="252.50" stroke="#000" stroke-width="0.5"/>
<g transform="translate(238.50,254.50) scale(0.1,0.1100)"><text font-size="56.0" text-anchor="end" textLength="126.3" lengthAdjust="spacingAndGlyphs">−0.2</text></g>
<line x1="239.70000000000002" y1="272.80" x2="241.3" y2="272.80" stroke="#000" stroke-width="0.5"/>
<g transform="translate(238.50,274.80) scale(0.1,0.1100)"><text font-size="56.0" text-anchor="end" textLength="126.3" lengthAdjust="spacingAndGlyphs">−0.4</text></g>
<line x1="253.40" y1="272.8" x2="253.40" y2="274.40000000000003" stroke="#000" stroke-width="0.5"/>
<line x1="309.40" y1="272.8" x2="309.40" y2="274.40000000000003" stroke="#000" stroke-width="0.5"/>
<line x1="364.60" y1="272.8" x2="364.60" y2="274.40000000000003" stroke="#000" stroke-width="0.5"/>
<line x1="415.20" y1="272.8" x2="415.20" y2="274.40000000000003" stroke="#000" stroke-width="0.5"/>
<g transform="translate(244.30,199.20) scale(0.1,0.1100)"><text font-size="56.0" textLength="1325.6" lengthAdjust="spacing">(f) Diff. of Thermal Budget (CNTL - GLN) at Day 0-5</text></g>
<g transform="translate(9.40,232.70) rotate(-90) scale(0.1,0.1100)"><text class="r" font-size="56.0" text-anchor="middle" textLength="591.1" lengthAdjust="spacing">Temperature Tendency</text></g>
<g transform="translate(15.80,232.70) rotate(-90) scale(0.1,0.1100)"><text class="r" font-size="56.0" text-anchor="middle" textLength="186.0" lengthAdjust="spacing">[K d<tspan font-size="42" dy="-20">−1</tspan><tspan dy="20">]</tspan></text></g>
<line x1="34.5" y1="324.50" x2="210.2" y2="324.50" stroke="#d9d9d9" stroke-width="0.5"/>
<g clip-path="url(#cpg)">
<polyline points="42.1,324.4 201.9,324.2" fill="none" stroke="#98aaaa" stroke-width="1.0" stroke-linejoin="round" opacity="1"/>
<polyline points="160.0,323.8 201.9,323.5" fill="none" stroke="#4a86c0" stroke-width="0.7" stroke-linejoin="round" opacity="1"/>
<polyline points="42.1,330.8 52.0,331.2 60.0,330.5 70.0,330.0 80.0,330.5 90.0,332.0 100.0,330.5 110.0,330.5 120.0,331.5 130.0,332.0 140.0,332.2 150.0,331.8 160.0,331.5 174.0,331.2 192.0,330.8 201.9,331.2" fill="none" stroke="#ff9448" stroke-width="1.1" stroke-linejoin="round" opacity="1"/>
<polyline points="42.1,314.7 43.8,317.6 45.5,321.8 47.6,328.6 49.2,326.9 50.9,316.8 52.6,309.2 53.9,314.3 55.1,318.5 56.8,318.1 58.5,318.1 60.0,321.5 62.0,323.5 64.5,326.5 66.0,325.5 67.5,321.0 69.5,320.5 71.0,319.5 72.5,315.0 74.0,312.5 76.0,313.0 78.0,312.5 80.0,311.5 82.0,314.0 84.0,316.5 85.5,313.5 87.5,310.5 89.5,314.0 91.5,319.0 93.5,324.0 95.5,324.0 97.0,320.0 98.0,307.5 99.0,313.0 100.0,318.0 102.0,318.0 104.0,319.0 105.5,315.0 107.0,317.5 109.0,315.0 110.0,316.0 111.5,320.0 113.0,315.0 114.5,306.0 116.0,301.5 117.5,303.0 119.0,308.0 120.5,315.0 122.0,320.0 123.5,322.0 125.0,322.5 126.5,322.0 128.0,318.0 129.5,313.0 131.0,310.5 132.5,311.0 134.0,313.0 135.5,316.0 137.0,315.0 138.5,317.5 140.0,316.0 141.5,317.5 143.0,316.5 144.5,318.5 145.5,317.0 146.5,328.0 148.0,337.0 149.0,334.0 150.0,328.0 151.5,320.0 152.5,323.0 153.5,327.0 155.0,322.0 157.0,321.0 159.0,316.0 160.0,317.0 163.0,316.5 166.0,317.0 169.0,317.5 170.5,320.0 172.0,323.0 173.5,318.0 175.0,310.0 176.0,316.0 177.0,325.0 178.5,321.0 180.0,318.5 181.5,317.5 183.0,320.0 184.5,318.0 186.0,321.0 187.5,324.0 189.0,328.0 190.5,323.0 192.0,319.0 193.0,317.0 194.5,321.0 196.0,315.0 197.5,319.0 199.0,316.0 200.5,314.0 202.0,313.5" fill="none" stroke="#ff33ff" stroke-width="1.0" stroke-linejoin="round" opacity="1"/>
<polyline points="42.1,320.6 43.8,322.7 45.5,328.6 47.1,335.3 48.8,333.6 50.5,323.5 51.8,316.8 53.0,315.5 54.3,321.0 55.5,324.4 57.6,325.2 59.3,326.1 61.0,328.6 63.1,331.1 64.5,332.0 66.0,330.5 67.5,327.0 69.5,326.5 71.5,325.0 73.0,319.0 74.5,318.0 76.5,319.0 78.5,318.5 80.5,317.5 82.0,320.5 84.0,323.0 86.0,319.5 87.5,317.5 89.5,321.5 91.5,325.5 93.5,330.0 95.5,330.0 97.0,325.0 98.0,313.0 99.0,323.0 101.0,323.5 103.0,325.5 104.5,321.5 106.0,322.5 107.5,321.0 109.0,321.5 110.0,322.5 111.0,324.0 112.0,328.0 113.5,320.0 115.0,312.0 116.5,308.0 118.0,310.0 119.5,317.0 121.0,324.0 122.5,328.0 124.0,329.5 125.5,330.0 127.0,329.0 128.5,324.0 130.0,319.0 131.5,317.5 133.0,319.0 134.5,321.5 136.0,324.0 137.5,322.5 139.0,326.5 140.5,323.5 142.0,325.0 143.5,324.0 145.0,325.0 146.5,331.0 147.5,338.0 148.5,343.0 149.5,338.0 150.5,330.0 152.0,327.0 153.5,333.0 155.0,328.0 156.5,327.0 158.0,324.0 160.0,323.0 163.0,322.5 166.0,323.0 169.0,324.0 171.0,328.5 172.5,324.0 174.0,319.0 175.0,314.0 176.0,321.0 177.0,331.0 178.5,327.0 180.0,323.0 181.5,325.0 183.0,325.5 184.5,327.5 186.0,323.0 187.5,330.0 189.0,335.0 190.5,330.0 192.0,325.0 193.5,324.0 195.0,328.5 196.5,321.0 198.0,325.0 199.5,320.0 201.0,319.5 202.0,319.0" fill="none" stroke="#303030" stroke-width="1.0" stroke-linejoin="round" opacity="1"/>
</g>
<clipPath id="cpg"><rect x="34.5" y="283.9" width="175.70" height="81.2"/></clipPath>
<rect x="34.5" y="283.9" width="175.70" height="81.2" fill="none" stroke="#000" stroke-width="0.44"/>
<line x1="32.9" y1="283.90" x2="34.5" y2="283.90" stroke="#000" stroke-width="0.5"/>
<g transform="translate(31.70,285.90) scale(0.1,0.1100)"><text font-size="56.0" text-anchor="end" textLength="33.1" lengthAdjust="spacingAndGlyphs">3</text></g>
<line x1="32.9" y1="297.43" x2="34.5" y2="297.43" stroke="#000" stroke-width="0.5"/>
<g transform="translate(31.70,299.43) scale(0.1,0.1100)"><text font-size="56.0" text-anchor="end" textLength="33.1" lengthAdjust="spacingAndGlyphs">2</text></g>
<line x1="32.9" y1="310.97" x2="34.5" y2="310.97" stroke="#000" stroke-width="0.5"/>
<g transform="translate(31.70,312.97) scale(0.1,0.1100)"><text font-size="56.0" text-anchor="end" textLength="33.1" lengthAdjust="spacingAndGlyphs">1</text></g>
<line x1="32.9" y1="324.50" x2="34.5" y2="324.50" stroke="#000" stroke-width="0.5"/>
<g transform="translate(31.70,326.50) scale(0.1,0.1100)"><text font-size="56.0" text-anchor="end" textLength="33.1" lengthAdjust="spacingAndGlyphs">0</text></g>
<line x1="32.9" y1="338.03" x2="34.5" y2="338.03" stroke="#000" stroke-width="0.5"/>
<g transform="translate(31.70,340.03) scale(0.1,0.1100)"><text font-size="56.0" text-anchor="end" textLength="76.7" lengthAdjust="spacingAndGlyphs">−1</text></g>
<line x1="32.9" y1="351.57" x2="34.5" y2="351.57" stroke="#000" stroke-width="0.5"/>
<g transform="translate(31.70,353.57) scale(0.1,0.1100)"><text font-size="56.0" text-anchor="end" textLength="76.7" lengthAdjust="spacingAndGlyphs">−2</text></g>
<line x1="32.9" y1="365.10" x2="34.5" y2="365.10" stroke="#000" stroke-width="0.5"/>
<g transform="translate(31.70,367.10) scale(0.1,0.1100)"><text font-size="56.0" text-anchor="end" textLength="76.7" lengthAdjust="spacingAndGlyphs">−3</text></g>
<line x1="43.40" y1="365.09999999999997" x2="43.40" y2="366.7" stroke="#000" stroke-width="0.5"/>
<line x1="98.60" y1="365.09999999999997" x2="98.60" y2="366.7" stroke="#000" stroke-width="0.5"/>
<line x1="154.40" y1="365.09999999999997" x2="154.40" y2="366.7" stroke="#000" stroke-width="0.5"/>
<line x1="204.40" y1="365.09999999999997" x2="204.40" y2="366.7" stroke="#000" stroke-width="0.5"/>
<g transform="translate(37.50,291.50) scale(0.1,0.1100)"><text font-size="56.0" textLength="990.5" lengthAdjust="spacing">(g) Model Tendency (CNTL) at Day 0-1</text></g>
<line x1="241.3" y1="324.50" x2="416.4" y2="324.50" stroke="#d9d9d9" stroke-width="0.5"/>
<g clip-path="url(#cph)">
<polyline points="249.1,324.4 408.9,324.2" fill="none" stroke="#98aaaa" stroke-width="1.0" stroke-linejoin="round" opacity="1"/>
<polyline points="370.0,323.8 408.9,323.5" fill="none" stroke="#4a86c0" stroke-width="0.7" stroke-linejoin="round" opacity="1"/>
<polyline points="249.1,331.2 259.0,331.7 268.0,331.2 277.0,330.4 286.0,330.4 295.0,331.7 304.0,331.2 313.0,330.4 322.0,330.8 331.0,331.7 345.0,331.7 363.0,331.7 381.0,331.2 408.9,331.2" fill="none" stroke="#ff9448" stroke-width="1.1" stroke-linejoin="round" opacity="1"/>
<polyline points="249.1,319.1 251.8,318.2 256.3,322.7 259.9,320.0 262.6,318.2 265.3,315.5 268.0,318.2 270.7,321.8 274.3,324.5 277.9,321.8 281.5,317.3 286.0,313.7 290.5,312.8 295.0,313.7 299.5,315.5 304.0,317.3 308.5,320.0 312.1,316.4 314.8,319.1 318.4,318.2 322.0,314.6 324.7,311.9 327.0,310.1 329.7,311.0 332.4,317.3 335.1,321.8 337.8,320.0 340.5,316.4 343.2,314.6 345.9,315.5 348.6,318.2 351.3,317.3 354.0,320.0 356.7,322.7 359.4,326.3 361.2,327.2 363.9,322.7 367.5,320.0 371.1,317.3 374.7,317.3 377.4,318.2 380.1,319.1 381.9,317.3 384.6,320.9 387.3,318.2 390.0,320.0 392.7,320.9 395.4,321.8 398.1,323.6 400.8,322.7 403.5,322.7 406.2,320.9 408.9,319.1" fill="none" stroke="#ff33ff" stroke-width="1.0" stroke-linejoin="round" opacity="1"/>
<polyline points="249.1,325.4 252.7,326.3 256.3,329.9 259.9,327.2 262.6,325.4 265.3,321.8 268.0,324.5 270.7,328.1 274.3,330.8 277.9,328.1 281.5,322.7 286.0,320.0 290.5,319.1 295.0,320.0 299.5,321.8 303.1,325.4 306.7,327.2 309.4,325.4 312.1,322.7 314.8,325.4 318.4,324.5 322.0,320.0 325.6,317.3 327.0,317.3 329.7,319.1 332.4,325.4 335.1,328.1 337.8,324.5 340.5,321.8 343.2,321.8 346.8,324.5 349.5,325.4 352.2,326.3 354.9,329.9 357.6,331.7 360.3,334.4 363.0,331.7 366.6,328.1 370.2,325.4 373.8,323.6 377.4,324.5 381.0,325.4 383.7,325.4 386.4,327.2 389.1,327.2 392.7,327.2 396.3,329.0 399.9,329.9 403.5,328.1 406.2,326.3 408.9,324.5" fill="none" stroke="#303030" stroke-width="1.05" stroke-linejoin="round" opacity="1"/>
</g>
<clipPath id="cph"><rect x="241.3" y="283.9" width="175.10" height="81.2"/></clipPath>
<rect x="241.3" y="283.9" width="175.10" height="81.2" fill="none" stroke="#000" stroke-width="0.44"/>
<line x1="239.70000000000002" y1="283.90" x2="241.3" y2="283.90" stroke="#000" stroke-width="0.5"/>
<g transform="translate(238.50,285.90) scale(0.1,0.1100)"><text font-size="56.0" text-anchor="end" textLength="33.1" lengthAdjust="spacingAndGlyphs">3</text></g>
<line x1="239.70000000000002" y1="297.43" x2="241.3" y2="297.43" stroke="#000" stroke-width="0.5"/>
<g transform="translate(238.50,299.43) scale(0.1,0.1100)"><text font-size="56.0" text-anchor="end" textLength="33.1" lengthAdjust="spacingAndGlyphs">2</text></g>
<line x1="239.70000000000002" y1="310.97" x2="241.3" y2="310.97" stroke="#000" stroke-width="0.5"/>
<g transform="translate(238.50,312.97) scale(0.1,0.1100)"><text font-size="56.0" text-anchor="end" textLength="33.1" lengthAdjust="spacingAndGlyphs">1</text></g>
<line x1="239.70000000000002" y1="324.50" x2="241.3" y2="324.50" stroke="#000" stroke-width="0.5"/>
<g transform="translate(238.50,326.50) scale(0.1,0.1100)"><text font-size="56.0" text-anchor="end" textLength="33.1" lengthAdjust="spacingAndGlyphs">0</text></g>
<line x1="239.70000000000002" y1="338.03" x2="241.3" y2="338.03" stroke="#000" stroke-width="0.5"/>
<g transform="translate(238.50,340.03) scale(0.1,0.1100)"><text font-size="56.0" text-anchor="end" textLength="76.7" lengthAdjust="spacingAndGlyphs">−1</text></g>
<line x1="239.70000000000002" y1="351.57" x2="241.3" y2="351.57" stroke="#000" stroke-width="0.5"/>
<g transform="translate(238.50,353.57) scale(0.1,0.1100)"><text font-size="56.0" text-anchor="end" textLength="76.7" lengthAdjust="spacingAndGlyphs">−2</text></g>
<line x1="239.70000000000002" y1="365.10" x2="241.3" y2="365.10" stroke="#000" stroke-width="0.5"/>
<g transform="translate(238.50,367.10) scale(0.1,0.1100)"><text font-size="56.0" text-anchor="end" textLength="76.7" lengthAdjust="spacingAndGlyphs">−3</text></g>
<line x1="253.40" y1="365.09999999999997" x2="253.40" y2="366.7" stroke="#000" stroke-width="0.5"/>
<line x1="309.40" y1="365.09999999999997" x2="309.40" y2="366.7" stroke="#000" stroke-width="0.5"/>
<line x1="364.60" y1="365.09999999999997" x2="364.60" y2="366.7" stroke="#000" stroke-width="0.5"/>
<line x1="415.20" y1="365.09999999999997" x2="415.20" y2="366.7" stroke="#000" stroke-width="0.5"/>
<g transform="translate(244.30,291.50) scale(0.1,0.1100)"><text font-size="56.0" textLength="990.4" lengthAdjust="spacing">(h) Model Tendency (CNTL) at Day 0-5</text></g>
<g transform="translate(9.40,325.00) rotate(-90) scale(0.1,0.1100)"><text class="r" font-size="56.0" text-anchor="middle" textLength="591.1" lengthAdjust="spacing">Temperature Tendency</text></g>
<g transform="translate(15.80,325.00) rotate(-90) scale(0.1,0.1100)"><text class="r" font-size="56.0" text-anchor="middle" textLength="186.0" lengthAdjust="spacing">[K d<tspan font-size="42" dy="-20">−1</tspan><tspan dy="20">]</tspan></text></g>
<line x1="34.5" y1="416.80" x2="210.2" y2="416.80" stroke="#d9d9d9" stroke-width="0.5"/>
<g clip-path="url(#cpi)">
<polyline points="42.1,416.2 201.9,416.2" fill="none" stroke="#e8a050" stroke-width="0.7" stroke-linejoin="round" opacity="1"/>
<polyline points="42.1,417.1 201.9,417.1" fill="none" stroke="#8fd08f" stroke-width="0.9" stroke-linejoin="round" opacity="1"/>
<polyline points="190.0,416.5 196.0,418.5 201.9,417.5" fill="none" stroke="#6cbf6c" stroke-width="0.7" stroke-linejoin="round" opacity="1"/>
<polyline points="42.1,440.1 43.1,429.6 44.7,427.5 46.3,428.5 48.4,428.5 50.5,427.5 52.6,428.5 54.7,426.4 56.8,426.4 58.3,419.1 59.9,416.0 62.0,424.4 63.6,425.4 65.2,420.2 67.3,421.2 68.8,425.4 70.4,424.4 72.0,422.3 73.5,419.1 75.6,416.0 77.2,418.1 78.8,420.2 79.8,429.6 81.6,422.3 83.7,433.8 85.2,423.3 86.8,426.4 88.4,422.3 90.5,423.3 92.1,414.9 93.6,416.0 95.2,406.5 96.8,404.4 98.3,405.5 99.9,406.5 101.5,407.6 103.1,414.9 104.6,422.3 105.7,425.4 106.7,406.5 108.3,414.9 109.9,417.5 111.4,405.5 113.0,406.5 114.6,408.6 116.2,405.5 117.7,403.4 119.3,406.5 120.9,421.2 121.9,429.6 122.6,426.4 124.7,432.7 126.3,426.4 128.4,417.5 130.0,414.4 131.5,417.0 133.6,423.8 135.2,420.2 137.3,413.3 138.9,419.1 139.9,427.5 141.5,421.7 143.1,422.8 145.2,419.6 146.7,426.4 148.3,436.9 149.9,428.5 151.4,422.3 153.5,419.6 155.6,430.6 157.2,426.4 158.8,423.3 160.4,422.8 161.9,421.2 163.0,430.6 165.0,417.5 166.6,420.2 168.1,426.4 169.4,439.0 170.8,425.4 172.3,418.1 173.9,420.2 175.5,427.5 177.1,424.4 178.4,432.7 179.7,421.2 181.2,415.4 182.8,419.1 184.4,424.4 186.0,419.1 187.5,415.9 189.1,422.3 190.7,417.0 192.3,414.9 193.8,416.5 195.4,412.3 197.0,413.9 198.5,418.1 200.1,420.2 202.2,420.2" fill="none" stroke="#b0b0b0" stroke-width="0.7" stroke-linejoin="round" opacity="1"/>
<polyline points="42.1,403.4 43.7,408.1 45.2,411.8 46.8,412.8 47.9,411.8 49.4,414.9 51.0,416.5 52.6,413.9 54.2,412.3 55.7,411.2 57.3,410.7 58.9,414.4 60.4,410.7 62.0,410.2 63.6,413.3 65.2,417.0 66.7,419.1 68.3,416.5 69.9,414.4 71.4,412.8 73.0,412.3 74.6,409.2 76.2,409.7 77.7,412.8 79.3,415.4 80.0,413.3 81.6,414.4 83.1,412.3 84.7,413.9 86.3,417.5 87.9,419.1 89.4,416.0 90.5,411.8 92.1,416.0 93.6,417.5 95.2,419.6 96.2,425.4 97.3,417.0 98.9,413.3 100.4,414.4 102.0,415.4 103.6,413.9 105.2,409.2 106.7,413.9 108.3,416.0 109.9,415.4 111.4,417.0 113.0,417.5 114.1,420.2 115.6,417.5 117.2,414.4 118.8,411.8 120.0,408.1 121.0,407.1 122.1,410.7 123.7,412.3 125.8,411.8 127.9,409.7 129.4,412.3 131.0,410.7 132.6,412.8 134.2,413.9 135.7,416.5 137.3,409.7 138.9,412.8 140.4,413.9 142.0,413.3 143.6,414.9 145.2,412.8 147.3,411.2 149.4,413.3 150.9,415.4 152.5,414.9 154.1,412.8 155.1,411.2 156.7,414.9 158.3,414.4 160.4,414.9 161.9,415.4 163.5,412.3 165.0,410.7 166.6,413.3 168.1,414.9 169.7,408.1 171.3,415.4 172.9,412.8 174.4,408.6 176.0,416.0 177.6,417.5 179.2,409.7 180.7,413.9 182.3,412.3 183.9,414.9 185.4,410.7 187.0,412.8 188.6,416.5 190.2,412.3 191.7,415.4 193.3,412.8 194.9,413.3 196.4,411.2 198.0,413.3 199.6,412.3 201.2,414.4 202.2,413.3" fill="none" stroke="#ff33ff" stroke-width="0.9" stroke-linejoin="round" opacity="1"/>
<polyline points="42.1,426.4 43.7,420.2 45.2,423.8 46.8,423.3 48.4,425.4 50.0,426.4 51.5,425.4 53.1,423.8 54.7,420.7 56.2,421.7 57.8,417.0 59.4,413.9 61.0,416.0 62.5,417.0 64.1,420.2 65.7,419.1 67.3,418.1 69.4,426.4 70.9,421.7 72.5,420.2 74.1,417.5 75.6,411.8 77.2,414.9 78.8,416.0 79.8,430.6 81.6,419.1 83.1,427.5 84.7,421.7 86.3,425.4 87.9,424.4 89.4,419.6 91.0,416.0 92.6,414.4 94.2,413.3 95.7,407.6 97.8,403.4 99.4,404.4 101.0,406.0 102.5,407.1 104.1,413.9 105.7,419.1 106.7,404.4 108.3,412.8 109.9,420.2 111.4,408.6 113.0,406.0 114.6,408.1 116.2,407.6 117.7,401.3 119.3,403.4 120.9,416.0 121.9,420.2 122.6,422.8 124.7,426.4 126.3,422.3 127.9,415.4 129.4,413.3 130.5,409.7 132.1,411.8 133.6,421.2 135.2,415.4 136.8,407.6 138.3,414.9 139.4,425.4 141.0,417.0 142.5,420.7 144.1,416.0 145.7,419.1 147.3,424.4 148.8,431.2 150.4,423.3 152.0,420.2 153.5,417.0 155.1,425.4 156.7,426.4 158.3,422.3 159.8,421.2 161.4,419.1 163.0,428.5 164.5,421.2 165.0,412.8 166.6,417.0 168.1,422.3 169.7,428.5 171.3,419.1 172.9,414.4 174.4,419.1 176.0,417.5 178.1,425.4 179.7,418.1 181.2,413.3 182.8,416.5 184.4,423.3 186.0,417.5 187.5,414.9 189.1,421.2 190.7,415.4 192.3,412.8 193.8,415.4 195.9,410.7 197.5,413.3 199.1,417.5 200.6,419.6 202.2,417.5" fill="none" stroke="#262626" stroke-width="0.8" stroke-linejoin="round" opacity="1"/>
</g>
<clipPath id="cpi"><rect x="34.5" y="376.2" width="175.70" height="81.2"/></clipPath>
<rect x="34.5" y="376.2" width="175.70" height="81.2" fill="none" stroke="#000" stroke-width="0.44"/>
<line x1="32.9" y1="376.20" x2="34.5" y2="376.20" stroke="#000" stroke-width="0.5"/>
<g transform="translate(31.70,378.20) scale(0.1,0.1100)"><text font-size="56.0" text-anchor="end" textLength="82.7" lengthAdjust="spacingAndGlyphs">0.4</text></g>
<line x1="32.9" y1="396.50" x2="34.5" y2="396.50" stroke="#000" stroke-width="0.5"/>
<g transform="translate(31.70,398.50) scale(0.1,0.1100)"><text font-size="56.0" text-anchor="end" textLength="82.7" lengthAdjust="spacingAndGlyphs">0.2</text></g>
<line x1="32.9" y1="416.80" x2="34.5" y2="416.80" stroke="#000" stroke-width="0.5"/>
<g transform="translate(31.70,418.80) scale(0.1,0.1100)"><text font-size="56.0" text-anchor="end" textLength="82.7" lengthAdjust="spacingAndGlyphs">0.0</text></g>
<line x1="32.9" y1="437.10" x2="34.5" y2="437.10" stroke="#000" stroke-width="0.5"/>
<g transform="translate(31.70,439.10) scale(0.1,0.1100)"><text font-size="56.0" text-anchor="end" textLength="126.3" lengthAdjust="spacingAndGlyphs">−0.2</text></g>
<line x1="32.9" y1="457.40" x2="34.5" y2="457.40" stroke="#000" stroke-width="0.5"/>
<g transform="translate(31.70,459.40) scale(0.1,0.1100)"><text font-size="56.0" text-anchor="end" textLength="126.3" lengthAdjust="spacingAndGlyphs">−0.4</text></g>
<line x1="43.40" y1="457.4" x2="43.40" y2="459.0" stroke="#000" stroke-width="0.5"/>
<g transform="translate(43.40,464.70) scale(0.1,0.1100)"><text font-size="56.0" text-anchor="middle" textLength="302.2" lengthAdjust="spacing">2018-12-01</text></g>
<line x1="98.60" y1="457.4" x2="98.60" y2="459.0" stroke="#000" stroke-width="0.5"/>
<g transform="translate(98.60,464.70) scale(0.1,0.1100)"><text font-size="56.0" text-anchor="middle" textLength="302.2" lengthAdjust="spacing">2019-01-01</text></g>
<line x1="154.40" y1="457.4" x2="154.40" y2="459.0" stroke="#000" stroke-width="0.5"/>
<g transform="translate(154.40,464.70) scale(0.1,0.1100)"><text font-size="56.0" text-anchor="middle" textLength="302.2" lengthAdjust="spacing">2019-02-01</text></g>
<line x1="204.40" y1="457.4" x2="204.40" y2="459.0" stroke="#000" stroke-width="0.5"/>
<g transform="translate(204.40,464.70) scale(0.1,0.1100)"><text font-size="56.0" text-anchor="middle" textLength="302.2" lengthAdjust="spacing">2019-03-01</text></g>
<g transform="translate(37.50,383.80) scale(0.1,0.1100)"><text font-size="56.0" textLength="1321.9" lengthAdjust="spacing">(i) Diff. of Model Tendency (CNTL - GLN) at Day 0-1</text></g>
<line x1="241.3" y1="416.80" x2="416.4" y2="416.80" stroke="#d9d9d9" stroke-width="0.5"/>
<g clip-path="url(#cpj)">
<polyline points="249.1,416.2 408.9,416.2" fill="none" stroke="#d8a050" stroke-width="0.7" stroke-linejoin="round" opacity="1"/>
<polyline points="249.1,417.1 408.9,417.1" fill="none" stroke="#8fd08f" stroke-width="0.9" stroke-linejoin="round" opacity="1"/>
<polyline points="249.2,424.4 251.3,423.3 252.9,425.4 255.5,420.2 258.6,418.1 261.8,418.6 264.9,417.5 267.5,417.0 269.6,416.5 272.3,417.5 275.4,418.6 278.5,418.6 281.2,422.3 283.8,421.7 286.4,421.2 290.0,417.5 293.1,419.1 296.3,423.3 299.4,422.3 301.5,417.5 303.1,413.9 305.2,412.3 307.3,410.7 308.9,409.7 311.0,411.8 313.1,413.9 315.2,412.3 316.7,415.4 318.3,416.5 319.9,411.8 321.4,411.2 323.0,410.2 324.6,410.7 326.2,409.2 327.7,414.4 329.3,420.2 330.9,424.4 332.5,426.4 335.0,425.4 338.1,420.2 341.3,418.1 344.4,418.6 347.6,418.6 350.7,419.1 352.8,421.2 354.9,424.4 357.0,428.5 360.2,427.5 363.3,426.4 366.4,425.4 369.6,424.4 372.7,421.2 375.4,418.6 378.1,421.2 381.3,420.7 384.4,422.3 387.1,419.6 389.7,420.2 392.3,422.3 394.9,419.6 397.5,421.2 400.2,419.1 402.3,416.0 404.9,414.4 407.0,416.0 408.5,417.0" fill="none" stroke="#b0b0b0" stroke-width="0.7" stroke-linejoin="round" opacity="1"/>
<polyline points="249.2,422.8 250.8,421.7 252.3,424.4 254.4,431.2 256.0,427.5 257.6,424.9 259.7,422.3 261.2,425.9 262.8,422.8 264.4,421.2 266.0,419.1 267.5,416.0 268.9,407.6 270.7,417.5 272.3,418.1 273.8,418.6 275.4,417.5 277.0,419.6 278.5,413.9 280.1,419.6 281.7,419.1 283.3,418.6 284.8,420.2 286.4,422.8 288.0,419.1 290.0,417.0 291.6,417.5 293.1,420.2 294.7,421.2 296.3,423.8 297.9,427.5 299.4,426.4 301.0,421.2 302.6,413.9 304.2,423.3 305.7,428.5 307.8,428.0 309.4,420.2 311.0,416.5 312.5,417.5 314.1,421.2 315.7,428.5 316.7,425.4 318.3,425.4 319.9,427.5 321.4,423.8 323.0,421.7 324.6,423.8 326.2,421.7 327.7,423.3 329.3,424.4 330.9,426.4 332.5,425.9 335.0,428.5 336.6,424.9 338.1,421.2 339.7,418.6 341.3,417.5 342.9,419.1 344.4,421.7 346.5,424.4 348.6,426.4 350.2,425.9 351.8,421.2 353.3,423.3 354.9,425.9 356.5,424.4 358.1,422.8 359.6,425.4 361.2,426.4 362.8,423.8 364.4,425.9 365.9,428.5 367.5,426.4 369.1,425.4 370.6,427.0 372.2,424.4 373.8,421.2 375.4,419.1 376.9,420.7 378.1,423.8 379.7,423.3 381.3,427.0 382.9,430.1 384.4,433.3 385.5,435.9 387.1,419.6 388.6,424.9 390.2,420.2 391.8,425.4 392.8,429.1 394.4,423.3 396.0,425.9 397.5,424.9 399.1,422.3 401.2,419.1 402.8,422.3 404.4,426.4 405.9,430.6 408.5,430.1" fill="none" stroke="#262626" stroke-width="0.8" stroke-linejoin="round" opacity="1"/>
<polyline points="249.2,414.4 250.8,413.3 252.3,414.4 253.9,417.5 255.0,420.2 256.5,417.0 258.1,417.5 259.7,413.9 261.2,418.6 262.8,414.9 264.4,415.4 266.0,413.3 267.5,409.7 268.9,405.5 270.2,411.8 271.7,416.0 273.3,419.1 274.9,422.8 276.4,417.0 278.0,410.7 279.6,416.0 281.2,413.3 282.7,414.4 284.3,412.3 285.9,416.0 287.5,419.1 289.0,412.3 290.0,410.7 291.6,412.8 293.1,418.6 294.7,419.6 296.3,421.7 297.9,422.3 299.4,422.8 301.0,420.2 302.6,415.4 304.2,425.4 305.7,432.2 307.3,433.3 308.9,431.2 310.4,422.3 312.0,419.6 313.6,426.4 315.2,436.4 316.7,426.4 318.3,425.4 319.9,425.4 320.9,430.6 322.5,425.4 324.1,425.9 325.6,428.5 327.2,426.4 328.8,424.4 330.4,422.3 331.9,418.6 333.5,415.4 335.0,416.0 336.6,415.4 338.1,413.3 339.7,412.3 341.3,413.3 342.9,417.0 344.4,420.2 346.0,422.8 347.6,425.4 349.2,425.9 350.7,422.3 352.3,417.0 353.9,417.5 355.4,416.0 357.0,413.3 358.6,412.3 360.2,416.5 361.7,416.5 363.3,417.5 364.9,418.6 366.4,420.7 368.0,418.6 369.6,419.1 371.2,419.6 372.7,418.6 374.3,417.5 375.9,414.4 377.5,418.1 379.0,419.6 380.0,418.6 381.3,423.3 382.9,426.4 384.4,430.6 386.0,429.6 387.6,416.5 389.2,422.3 390.7,419.1 392.3,424.4 393.9,422.8 395.4,422.3 397.0,421.7 398.6,420.7 400.2,419.6 401.7,418.1 403.3,421.7 404.9,428.5 406.4,431.2 408.5,429.6" fill="none" stroke="#ff33ff" stroke-width="0.9" stroke-linejoin="round" opacity="1"/>
</g>
<clipPath id="cpj"><rect x="241.3" y="376.2" width="175.10" height="81.2"/></clipPath>
<rect x="241.3" y="376.2" width="175.10" height="81.2" fill="none" stroke="#000" stroke-width="0.44"/>
<line x1="239.70000000000002" y1="376.20" x2="241.3" y2="376.20" stroke="#000" stroke-width="0.5"/>
<g transform="translate(238.50,378.20) scale(0.1,0.1100)"><text font-size="56.0" text-anchor="end" textLength="82.7" lengthAdjust="spacingAndGlyphs">0.4</text></g>
<line x1="239.70000000000002" y1="396.50" x2="241.3" y2="396.50" stroke="#000" stroke-width="0.5"/>
<g transform="translate(238.50,398.50) scale(0.1,0.1100)"><text font-size="56.0" text-anchor="end" textLength="82.7" lengthAdjust="spacingAndGlyphs">0.2</text></g>
<line x1="239.70000000000002" y1="416.80" x2="241.3" y2="416.80" stroke="#000" stroke-width="0.5"/>
<g transform="translate(238.50,418.80) scale(0.1,0.1100)"><text font-size="56.0" text-anchor="end" textLength="82.7" lengthAdjust="spacingAndGlyphs">0.0</text></g>
<line x1="239.70000000000002" y1="437.10" x2="241.3" y2="437.10" stroke="#000" stroke-width="0.5"/>
<g transform="translate(238.50,439.10) scale(0.1,0.1100)"><text font-size="56.0" text-anchor="end" textLength="126.3" lengthAdjust="spacingAndGlyphs">−0.2</text></g>
<line x1="239.70000000000002" y1="457.40" x2="241.3" y2="457.40" stroke="#000" stroke-width="0.5"/>
<g transform="translate(238.50,459.40) scale(0.1,0.1100)"><text font-size="56.0" text-anchor="end" textLength="126.3" lengthAdjust="spacingAndGlyphs">−0.4</text></g>
<line x1="253.40" y1="457.4" x2="253.40" y2="459.0" stroke="#000" stroke-width="0.5"/>
<g transform="translate(253.40,464.70) scale(0.1,0.1100)"><text font-size="56.0" text-anchor="middle" textLength="302.2" lengthAdjust="spacing">2018-12-01</text></g>
<line x1="309.40" y1="457.4" x2="309.40" y2="459.0" stroke="#000" stroke-width="0.5"/>
<g transform="translate(309.40,464.70) scale(0.1,0.1100)"><text font-size="56.0" text-anchor="middle" textLength="302.2" lengthAdjust="spacing">2019-01-01</text></g>
<line x1="364.60" y1="457.4" x2="364.60" y2="459.0" stroke="#000" stroke-width="0.5"/>
<g transform="translate(364.60,464.70) scale(0.1,0.1100)"><text font-size="56.0" text-anchor="middle" textLength="302.2" lengthAdjust="spacing">2019-02-01</text></g>
<line x1="415.20" y1="457.4" x2="415.20" y2="459.0" stroke="#000" stroke-width="0.5"/>
<g transform="translate(415.20,464.70) scale(0.1,0.1100)"><text font-size="56.0" text-anchor="middle" textLength="302.2" lengthAdjust="spacing">2019-03-01</text></g>
<g transform="translate(244.30,383.80) scale(0.1,0.1100)"><text font-size="56.0" textLength="1321.9" lengthAdjust="spacing">(j) Diff. of Model Tendency (CNTL - GLN) at Day 0-5</text></g>
<g transform="translate(9.40,417.30) rotate(-90) scale(0.1,0.1100)"><text class="r" font-size="56.0" text-anchor="middle" textLength="591.1" lengthAdjust="spacing">Temperature Tendency</text></g>
<g transform="translate(15.80,417.30) rotate(-90) scale(0.1,0.1100)"><text class="r" font-size="56.0" text-anchor="middle" textLength="186.0" lengthAdjust="spacing">[K d<tspan font-size="42" dy="-20">−1</tspan><tspan dy="20">]</tspan></text></g>
<g transform="translate(122.35,471.60) scale(0.1,0.1100)"><text font-size="56.0" text-anchor="middle" textLength="242.8" lengthAdjust="spacing">Validtime</text></g>
<g transform="translate(328.85,471.60) scale(0.1,0.1100)"><text font-size="56.0" text-anchor="middle" textLength="242.8" lengthAdjust="spacing">Validtime</text></g>
<rect x="419.3" y="9.4" width="32.3" height="17.0" rx="1.2" fill="#fff" stroke="#e0e0e0" stroke-width="0.5"/>
<line x1="421.0" y1="13.60" x2="432.0" y2="13.60" stroke="#f2c070" stroke-width="1.4"/>
<g transform="translate(436.00,15.60) scale(0.1,0.1100)"><text font-size="56.0" textLength="135.9" lengthAdjust="spacingAndGlyphs">CNTL</text></g>
<line x1="421.0" y1="21.60" x2="432.0" y2="21.60" stroke="#8ecdf2" stroke-width="1.2"/>
<g transform="translate(436.00,23.60) scale(0.1,0.1100)"><text font-size="56.0" textLength="108.2" lengthAdjust="spacingAndGlyphs">GLN</text></g>
<rect x="419.3" y="101.8" width="75.3" height="40.8" rx="1.2" fill="#fff" stroke="#e0e0e0" stroke-width="0.5"/>
<line x1="421.0" y1="106.60" x2="432.0" y2="106.60" stroke="#333" stroke-width="0.9"/>
<g transform="translate(436.00,108.60) scale(0.1,0.1100)"><text font-size="56.0" textLength="383.2" lengthAdjust="spacing">Total Tendency</text></g>
<line x1="421.0" y1="114.25" x2="432.0" y2="114.25" stroke="#8ab4e0" stroke-width="1.1"/>
<g transform="translate(436.00,116.25) scale(0.1,0.1100)"><text font-size="56.0" textLength="562.3" lengthAdjust="spacing">Mean Stationary Flow</text></g>
<line x1="421.0" y1="121.90" x2="432.0" y2="121.90" stroke="#ffbb90" stroke-width="1.2"/>
<g transform="translate(436.00,123.90) scale(0.1,0.1100)"><text font-size="56.0" textLength="415.1" lengthAdjust="spacing">Stationary Eddy</text></g>
<line x1="421.0" y1="129.55" x2="432.0" y2="129.55" stroke="#88cc88" stroke-width="1.0"/>
<g transform="translate(436.00,131.55) scale(0.1,0.1100)"><text font-size="56.0" textLength="383.4" lengthAdjust="spacing">Transient Eddy</text></g>
<line x1="421.0" y1="137.20" x2="432.0" y2="137.20" stroke="#b87858" stroke-width="1.0"/>
<g transform="translate(436.00,139.20) scale(0.1,0.1100)"><text font-size="56.0" textLength="362.2" lengthAdjust="spacing">Residual Term</text></g>
<rect x="419.3" y="286.5" width="73.1" height="48.8" rx="1.2" fill="#fff" stroke="#e0e0e0" stroke-width="0.5"/>
<line x1="421.0" y1="291.00" x2="432.0" y2="291.00" stroke="#444" stroke-width="1.1"/>
<g transform="translate(436.00,293.00) scale(0.1,0.1100)"><text font-size="56.0" textLength="383.2" lengthAdjust="spacing">Total Tendency</text></g>
<line x1="421.0" y1="298.84" x2="432.0" y2="298.84" stroke="#1f77b4" stroke-width="0.8"/>
<g transform="translate(436.00,300.84) scale(0.1,0.1100)"><text font-size="56.0" textLength="539.0" lengthAdjust="spacing">Shortwave Radiation</text></g>
<line x1="421.0" y1="306.68" x2="432.0" y2="306.68" stroke="#ff7f0e" stroke-width="0.8"/>
<g transform="translate(436.00,308.68) scale(0.1,0.1100)"><text font-size="56.0" textLength="525.3" lengthAdjust="spacing">Longwave Radiation</text></g>
<line x1="421.0" y1="314.52" x2="432.0" y2="314.52" stroke="#2ca02c" stroke-width="0.8"/>
<g transform="translate(436.00,316.52) scale(0.1,0.1100)"><text font-size="56.0" textLength="411.9" lengthAdjust="spacing">Boundary Layer</text></g>
<line x1="421.0" y1="322.36" x2="432.0" y2="322.36" stroke="#ff00ff" stroke-width="0.8"/>
<g transform="translate(436.00,324.36) scale(0.1,0.1100)"><text font-size="56.0" textLength="256.4" lengthAdjust="spacing">Dynamics</text></g>
<line x1="421.0" y1="330.20" x2="432.0" y2="330.20" stroke="#cccccc" stroke-width="1.0"/>
<g transform="translate(436.00,332.20) scale(0.1,0.1100)"><text font-size="56.0" textLength="218.3" lengthAdjust="spacing">Nudging</text></g>
</svg></body></html>
